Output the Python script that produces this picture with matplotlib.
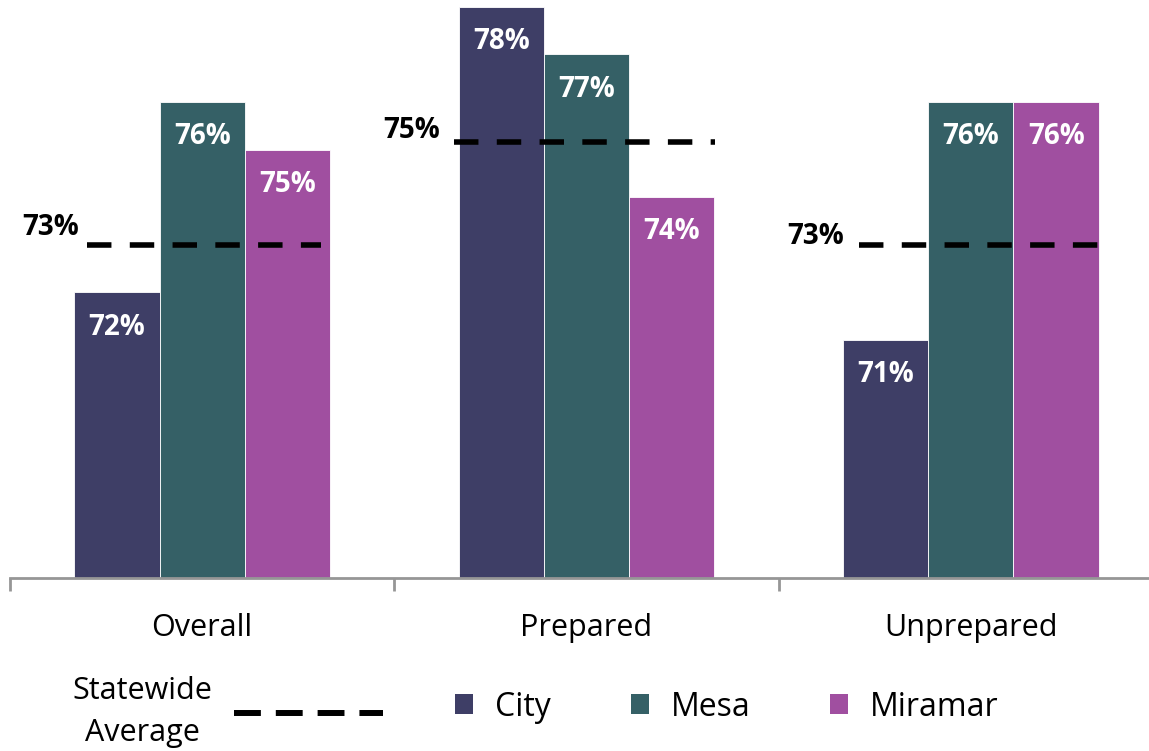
import numpy as np
import matplotlib
matplotlib.use('Agg')
import matplotlib.pyplot as plt
from matplotlib.lines import Line2D
from matplotlib.patches import Patch

plt.rcParams['font.family'] = ['Open Sans', 'DejaVu Sans']

# data
groups = ['Overall', 'Prepared', 'Unprepared']
series = ['City', 'Mesa', 'Miramar']
city = [72, 78, 71]
mesa = [76, 77, 76]
miramar = [75, 74, 76]
statewide = [73, 75.15, 73]

colors = ['#3e3e66', '#356066', '#a04fa0']
bar_w = 0.222
# (left, right) extent of each statewide line around the group centre
line_ext = [(-0.30, 0.31), (-0.345, 0.335), (-0.29, 0.335)]
# label offset (pixels) from line start
label_off = [(-8, 17), (-14, 12), (-15, 8)]

fig = plt.figure(figsize=(11.49, 7.51), dpi=100)
ax = fig.add_axes([10/1149, 1 - 578/751, 1 - 10/1149, 578/751])

x = np.arange(len(groups))
for i, (vals, c) in enumerate(zip([city, mesa, miramar], colors)):
    xs = x + (i - 1) * bar_w
    ax.bar(xs, np.array(vals) - 66, bottom=66, width=bar_w, color=c,
           edgecolor='white', linewidth=0.6)
    for xx, v in zip(xs, vals):
        ax.text(xx, v - 0.73, '%d%%' % v, ha='center', va='center',
                color='white', fontsize=20, fontweight='bold')

for i, s in enumerate(statewide):
    l, r = line_ext[i]
    ax.plot([x[i] + l, x[i] + r], [s, s], color='black', lw=4.0,
            dashes=(4.4, 3.3), solid_capstyle='butt', dash_capstyle='butt')
    ax.annotate('%d%%' % round(s), xy=(x[i] + l, s), xytext=label_off[i],
                textcoords='offset pixels', ha='right', va='center',
                fontsize=20, fontweight='bold')

ax.set_xlim(-0.5, 2.5 - 14/384.5)
ax.set_ylim(66, 66 + 578/47.6)
for sp in ['top', 'right', 'left']:
    ax.spines[sp].set_visible(False)
ax.spines['bottom'].set_color('#969696')
ax.spines['bottom'].set_linewidth(2)
ax.set_yticks([])
ax.set_xticks([-0.5, 0.5, 1.5])
ax.set_xticklabels([])
ax.tick_params(axis='x', length=9, width=2, color='#969696')
for i, g in enumerate(groups):
    ax.text(x[i], 66 - 1.06, g, ha='center', va='center', fontsize=22)

# legends
h1 = [Line2D([0], [0], color='black', lw=4.3, dashes=(4.5, 2.5))]
leg1 = fig.legend(h1, ['Statewide\nAverage'], loc='center', bbox_to_anchor=(228/1149, 1 - 712/751),
                  frameon=False, fontsize=22, markerfirst=False, handlelength=4.9,
                  handletextpad=0.7)
leg1.get_texts()[0].set_multialignment('center')
leg1.get_texts()[0].set_linespacing(1.55)
h2 = [Patch(facecolor=c) for c in colors]
fig.legend(h2, series, loc='center', bbox_to_anchor=(727/1149, 1 - 707/751), ncol=3,
           frameon=False, fontsize=23, handlelength=0.56, handleheight=0.56,
           handletextpad=0.69, columnspacing=2.5)

fig.savefig('out.png', dpi=100)
